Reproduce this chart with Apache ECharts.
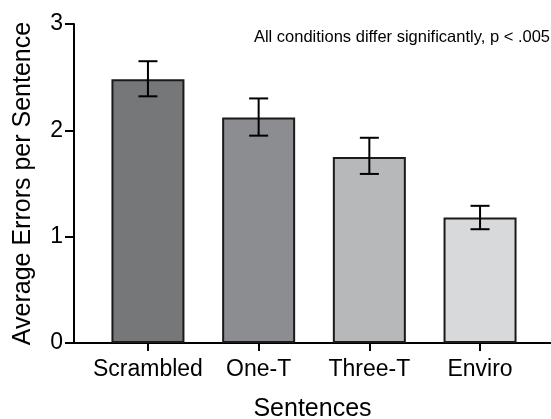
<!DOCTYPE html>
<html>
<head>
<meta charset="utf-8">
<script src="https://cdn.jsdelivr.net/npm/echarts@6/dist/echarts.min.js"></script>
<style>
  html, body { margin: 0; padding: 0; background: #fff; }
  #main { width: 551px; height: 419px; }
</style>
</head>
<body>
<div id="main"></div>
<script>
// data
const categories = ["Scrambled", "One-T", "Three-T", "Enviro"]
const means = [2.48, 2.12, 1.75, 1.18]
const errLow = [2.32, 1.95, 1.59, 1.07]
const errHigh = [2.65, 2.30, 1.93, 1.29]
const yTicks = [0, 1, 2, 3]

const barColors = ["#767778", "#8c8d90", "#b7b8ba", "#d8d9db"]
const font = "Liberation Sans"

const chart = echarts.init(document.getElementById("main"))

const catIdx = categories.map((c, i) => i)

const option = {
  animation: false,
  textStyle: { fontFamily: font },
  title: {
    text: "All conditions differ significantly, p < .005",
    right: 1,
    top: 28.5,
    padding: 0,
    textStyle: { fontFamily: font, fontSize: 16.5, fontWeight: "normal", color: "#000" },
  },
  grid: { left: 74, right: 0, top: 24, bottom: 76, outerBoundsMode: "none", containLabel: false },
  xAxis: {
    type: "value",
    min: -0.668,
    max: 3.641,
    name: "Sentences",
    nameLocation: "middle",
    nameGap: 54,
    nameTextStyle: { fontFamily: font, fontSize: 25, color: "#000" },
    splitLine: { show: false },
    axisLine: { show: true, onZero: false, lineStyle: { color: "#000", width: 2 } },
    axisTick: { show: true, length: 8, lineStyle: { color: "#000", width: 2 }, customValues: catIdx },
    axisLabel: {
      customValues: catIdx,
      margin: 15,
      fontSize: 23,
      color: "#000",
      fontFamily: font,
      formatter: (v) => categories[v] || "",
    },
  },
  yAxis: {
    type: "value",
    min: 0,
    max: 3,
    interval: 1,
    name: "Average Errors per Sentence",
    nameLocation: "middle",
    nameGap: 38,
    nameTextStyle: { fontFamily: font, fontSize: 25, color: "#000" },
    splitLine: { show: false },
    axisLine: { show: true, onZero: false, lineStyle: { color: "#000", width: 2 } },
    axisTick: { show: true, length: 9, lineStyle: { color: "#000", width: 2 } },
    axisLabel: {
      margin: 11,
      fontSize: 23,
      color: "#000",
      fontFamily: font,
      formatter: (v) => (yTicks.includes(v) ? String(v) : ""),
    },
  },
  series: [
    {
      type: "bar",
      barWidth: 73,
      data: means.map((m, i) => ({
        value: [i, m],
        itemStyle: { color: barColors[i], borderColor: "#1a1a1a", borderWidth: 2 },
      })),
    },
    {
      type: "custom",
      data: catIdx.map((i) => [i, errLow[i], errHigh[i]]),
      renderItem: (params, api) => {
        const lo = api.coord([api.value(0), api.value(1)])
        const hi = api.coord([api.value(0), api.value(2)])
        const half = 9.5
        const style = { stroke: "#000", lineWidth: 2 }
        return {
          type: "group",
          children: [
            { type: "line", shape: { x1: hi[0], y1: hi[1], x2: lo[0], y2: lo[1] }, style },
            { type: "line", shape: { x1: hi[0] - half, y1: hi[1], x2: hi[0] + half, y2: hi[1] }, style },
            { type: "line", shape: { x1: lo[0] - half, y1: lo[1], x2: lo[0] + half, y2: lo[1] }, style },
          ],
        }
      },
      z: 5,
    },
  ],
}

option && chart.setOption(option)
</script>
</body>
</html>
